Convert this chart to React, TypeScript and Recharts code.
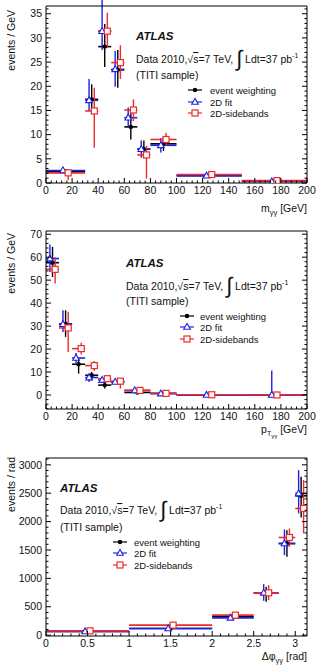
import React from 'react';
import { ComposedChart, Scatter, XAxis, YAxis, ErrorBar, Customized } from 'recharts';

const FONT = '"Liberation Sans", Arial, Helvetica, sans-serif';
const INK = '#111111';
const BLACK = '#000000';
const BLUE = '#2020e8';
const RED = '#ec2b2b';

// ---------- diphoton invariant mass m_γγ [GeV] ----------
const massBinEdges = [0, 30, 40, 50, 60, 70, 80, 100, 150, 200];
const massWeighting = [2.4, 17.3, 28.2, 23.4, 11.6, 7.0, 8.1, 1.5, 0.35];
const massWeightingLow = [2.0, 14.4, 24.0, 19.7, 9.0, 5.4, 6.6, 1.3, 0.25];
const massWeightingHigh = [2.8, 20.4, 32.9, 27.5, 14.4, 8.8, 9.7, 1.7, 0.45];
const massFit = [2.6, 17.1, 31.4, 23.5, 13.5, 7.0, 7.8, 1.5, 0.3];
const massFitLow = [2.3, 14.9, 27.5, 19.9, 11.6, 5.2, 6.3, 1.3, 0.2];
const massFitHigh = [2.9, 21.5, 38.0, 27.3, 15.6, 8.8, 9.3, 1.7, 0.45];
const massSidebands = [2.1, 14.9, 31.4, 24.9, 15.1, 5.8, 9.0, 1.75, 0.5];
const massSidebandsLow = [0.6, 7.3, 28.0, 21.5, 12.8, 0.9, 7.7, 1.5, 0.35];
const massSidebandsHigh = [2.9, 19.7, 35.2, 28.5, 17.3, 7.7, 10.4, 2.0, 0.65];
const massXTicks = [0, 20, 40, 60, 80, 100, 120, 140, 160, 180, 200];
const massYTicks = [0, 5, 10, 15, 20, 25, 30, 35];

// ---------- diphoton transverse momentum p_Tγγ [GeV] ----------
const ptBinEdges = [0, 10, 20, 30, 40, 50, 60, 80, 100, 150, 200];
const ptWeighting = [57.6, 30.9, 13.4, 8.6, 4.3, 5.7, 1.1, 0.7, 0.0, -0.1];
const ptWeightingLow = [51.4, 25.3, 9.3, 6.4, 2.8, 4.7, 0.5, 0.3, -0.2, -0.6];
const ptWeightingHigh = [64.5, 36.9, 15.8, 10.0, 6.4, 6.7, 1.8, 1.1, 0.2, 0.4];
const ptFit = [59.4, 30.8, 16.1, 7.6, 6.5, 5.7, 2.0, 0.6, 0.0, 0.0];
const ptFitLow = [53.6, 27.4, 13.9, 5.7, 5.5, 4.8, 1.4, 0.3, -0.2, -1.3];
const ptFitHigh = [65.5, 36.9, 18.3, 9.4, 7.5, 6.6, 2.6, 0.9, 0.2, 10.7];
const ptSidebands = [54.7, 29.2, 20.2, 12.8, 7.1, 6.0, 2.0, 0.7, 0.1, 0.0];
const ptSidebandsLow = [48.5, 18.7, 17.6, 10.5, 5.7, 2.8, 1.4, 0.3, -0.2, -0.3];
const ptSidebandsHigh = [60.1, 36.2, 22.7, 14.8, 8.6, 7.1, 2.6, 1.1, 0.4, 0.3];
const ptXTicks = [0, 20, 40, 60, 80, 100, 120, 140, 160, 180, 200];
const ptYTicks = [0, 10, 20, 30, 40, 50, 60, 70];

// ---------- azimuthal separation Δφ_γγ [rad] ----------
const dphiBinEdges = [0, 1, 2, 2.5, 2.8, 3.0, Math.PI];
const dphiWeighting = [65, 117, 323, 745, 1614, 2454];
const dphiWeightingLow = [50, 100, 290, 587, 1380, 2072];
const dphiWeightingHigh = [80, 135, 355, 851, 1849, 2789];
const dphiFit = [65, 117, 305, 745, 1614, 2495];
const dphiFitLow = [50, 95, 270, 605, 1409, 2143];
const dphiFitHigh = [80, 140, 340, 898, 1861, 2906];
const dphiSidebands = [76, 176, 352, 745, 1720, 2231];
const dphiSidebandsLow = [60, 150, 320, 616, 1556, 1790];
const dphiSidebandsHigh = [92, 200, 385, 880, 1879, 2730];
const dphiXTicks = [0, 0.5, 1, 1.5, 2, 2.5, 3];
const dphiYTicks = [0, 500, 1000, 1500, 2000, 2500, 3000];

const legendLabels = ['event weighting', '2D fit', '2D-sidebands'];

type Pt = { x: number; y: number; xErr: [number, number]; yErr: [number, number] };

// Points sit in the bin centre (nudged sideways per method so they don't overlap);
// the horizontal bar always spans the full bin.
function buildPoints(edges: number[], values: number[], lows: number[], highs: number[], shift: number): Pt[] {
  return values.map((v, i) => {
    const lo = edges[i];
    const hi = edges[i + 1];
    const x = (lo + hi) / 2 + shift;
    return { x, y: v, xErr: [x - lo, hi - x], yErr: [v - lows[i], highs[i] - v] };
  });
}

function stepTicks(from: number, to: number, step: number): number[] {
  const out: number[] = [];
  const n0 = Math.ceil(from / step - 1e-9);
  const n1 = Math.floor(to / step + 1e-9);
  for (let n = n0; n <= n1; n++) out.push(Math.round(n * step * 1000) / 1000);
  return out;
}

const isMajor = (majors: number[], v: number) => majors.some((m) => Math.abs(m - v) < 1e-6);

type Side = 'bottom' | 'top' | 'left' | 'right';

function makeTick(side: Side, majors: number[]) {
  return (props: any) => {
    const { x, y, payload } = props;
    const v = payload.value as number;
    const major = isMajor(majors, v);
    const len = major ? 5 : 2.5;
    const label = String(v);
    if (side === 'bottom') {
      return (
        <g>
          <line x1={x} y1={y} x2={x} y2={y - len} stroke={BLACK} strokeWidth={1} />
          {major && (
            <text x={x} y={y + 11} textAnchor="middle" fontSize={10.5} fontFamily={FONT} fill={INK}>
              {label}
            </text>
          )}
        </g>
      );
    }
    if (side === 'top') {
      return <line x1={x} y1={y} x2={x} y2={y + len} stroke={BLACK} strokeWidth={1} />;
    }
    if (side === 'left') {
      return (
        <g>
          <line x1={x} y1={y} x2={x + len} y2={y} stroke={BLACK} strokeWidth={1} />
          {major && (
            <text x={x - 4} y={y + 3.7} textAnchor="end" fontSize={10.5} fontFamily={FONT} fill={INK}>
              {label}
            </text>
          )}
        </g>
      );
    }
    return <line x1={x} y1={y} x2={x - len} y2={y} stroke={BLACK} strokeWidth={1} />;
  };
}

const dotShape = (p: any) => <circle cx={p.cx} cy={p.cy} r={2.2} fill={BLACK} />;
const triangleShape = (p: any) => (
  <polygon
    points={`${p.cx},${p.cy - 3.6} ${p.cx - 3.3},${p.cy + 2.3} ${p.cx + 3.3},${p.cy + 2.3}`}
    fill="#ffffff"
    stroke={BLUE}
    strokeWidth={1.1}
  />
);
const squareShape = (p: any) => (
  <rect x={p.cx - 3} y={p.cy - 3} width={6} height={6} fill="#ffffff" stroke={RED} strokeWidth={1.2} />
);

const seriesStyle = [
  { color: BLACK, shape: dotShape },
  { color: BLUE, shape: triangleShape },
  { color: RED, shape: squareShape },
];

function LegendMark({ i, x, y }: { i: number; x: number; y: number }) {
  const c = seriesStyle[i].color;
  return (
    <g>
      <line x1={x - 7} y1={y} x2={x + 7} y2={y} stroke={c} strokeWidth={1.2} />
      {seriesStyle[i].shape({ cx: x, cy: y })}
    </g>
  );
}

type Overlay = {
  atlas: [number, number];
  lineGap: [number, number];
  legend: { markX: number; textX: number; ys: number[] };
  xTitle: React.ReactNode;
  xTitleY: number;
  yTitle: string;
  yTitleTop: number;
};

function OverlayText({ o }: { o: Overlay }) {
  const [ax, ay] = o.atlas;
  return (
    <g fontFamily={FONT} fill={INK}>
      <text x={ax} y={ay} fontSize={11.5} fontWeight="bold" fontStyle="italic">
        ATLAS
      </text>
      <text x={ax} y={ay + o.lineGap[0]} fontSize={10.5}>
        Data 2010,√<tspan style={{ textDecoration: 'overline' }}>s</tspan>=7 TeV,
        <tspan fontSize={22} dx={3} dy={3}>∫</tspan>
        <tspan dy={-3}> Ldt=37 pb</tspan>
        <tspan fontSize={7} dy={-5}>-1</tspan>
      </text>
      <text x={ax} y={ay + o.lineGap[1]} fontSize={10.5}>
        (TITI sample)
      </text>
      {legendLabels.map((t, i) => (
        <g key={t}>
          <LegendMark i={i} x={o.legend.markX} y={o.legend.ys[i]} />
          <text x={o.legend.textX} y={o.legend.ys[i] + 3.5} fontSize={9.5}>
            {t}
          </text>
        </g>
      ))}
      <text x={307} y={o.xTitleY} textAnchor="end" fontSize={10.5}>
        {o.xTitle}
      </text>
      <text
        x={15}
        y={o.yTitleTop}
        textAnchor="end"
        fontSize={10.5}
        transform={`rotate(-90, 15, ${o.yTitleTop})`}
      >
        {o.yTitle}
      </text>
    </g>
  );
}

type PanelProps = {
  top: number;
  height: number;
  // plot-frame edges in panel coordinates
  frame: { top: number; right: number; bottom: number; left: number };
  xDomain: [number, number];
  yDomain: [number, number];
  xMajors: number[];
  xMinorStep: number;
  yMajors: number[];
  yMinorStep: number;
  series: Pt[][];
  overlay: Overlay;
};

// every axis strip is 1px thick; the frame edges land on the strip's inner side
const STRIP = 1;

function Panel(p: PanelProps) {
  const xTicks = stepTicks(p.xDomain[0], p.xDomain[1], p.xMinorStep);
  const yTicks = stepTicks(p.yDomain[0], p.yDomain[1], p.yMinorStep);
  const margin = {
    top: p.frame.top - STRIP,
    left: p.frame.left - STRIP,
    right: 321 - p.frame.right - STRIP,
    bottom: p.height - p.frame.bottom - STRIP,
  };
  return (
    <div style={{ position: 'absolute', left: 0, top: p.top, width: 321, height: p.height }}>
      <ComposedChart width={321} height={p.height} margin={margin}>
        <XAxis
          xAxisId="b"
          dataKey="x"
          type="number"
          orientation="bottom"
          domain={p.xDomain}
          allowDataOverflow
          ticks={xTicks}
          interval={0}
          tickSize={0}
          tickMargin={0}
          height={STRIP}
          stroke={BLACK}
          tick={makeTick('bottom', p.xMajors)}
        />
        <XAxis
          xAxisId="t"
          type="number"
          orientation="top"
          domain={p.xDomain}
          allowDataOverflow
          ticks={xTicks}
          interval={0}
          tickSize={0}
          tickMargin={0}
          height={STRIP}
          stroke={BLACK}
          tick={makeTick('top', p.xMajors)}
        />
        <YAxis
          yAxisId="l"
          dataKey="y"
          type="number"
          orientation="left"
          domain={p.yDomain}
          allowDataOverflow
          ticks={yTicks}
          interval={0}
          tickSize={0}
          tickMargin={0}
          width={STRIP}
          stroke={BLACK}
          tick={makeTick('left', p.yMajors)}
        />
        <YAxis
          yAxisId="r"
          type="number"
          orientation="right"
          domain={p.yDomain}
          allowDataOverflow
          ticks={yTicks}
          interval={0}
          tickSize={0}
          tickMargin={0}
          width={STRIP}
          stroke={BLACK}
          tick={makeTick('right', p.yMajors)}
        />
        {p.series.map((pts, i) => (
          <Scatter
            key={legendLabels[i]}
            name={legendLabels[i]}
            data={pts}
            xAxisId="b"
            yAxisId="l"
            dataKey="y"
            isAnimationActive={false}
            shape={seriesStyle[i].shape}
          >
            <ErrorBar dataKey="xErr" direction="x" width={0} stroke={seriesStyle[i].color} strokeWidth={1.6} isAnimationActive={false} />
            <ErrorBar dataKey="yErr" direction="y" width={0} stroke={seriesStyle[i].color} strokeWidth={1.4} isAnimationActive={false} />
          </Scatter>
        ))}
        <Customized component={<OverlayText o={p.overlay} />} />
      </ComposedChart>
    </div>
  );
}

const sub = (t: string, dy = 3, fs = 7.5) => (
  <tspan fontSize={fs} dy={dy}>
    {t}
  </tspan>
);

export default function App() {
  const massShift = 2;
  const ptShift = 2;
  const dphiShift = 0.03;
  const massSeries = [
    buildPoints(massBinEdges, massWeighting, massWeightingLow, massWeightingHigh, 0),
    buildPoints(massBinEdges, massFit, massFitLow, massFitHigh, -massShift),
    buildPoints(massBinEdges, massSidebands, massSidebandsLow, massSidebandsHigh, massShift),
  ];
  const ptSeries = [
    buildPoints(ptBinEdges, ptWeighting, ptWeightingLow, ptWeightingHigh, 0),
    buildPoints(ptBinEdges, ptFit, ptFitLow, ptFitHigh, -ptShift),
    buildPoints(ptBinEdges, ptSidebands, ptSidebandsLow, ptSidebandsHigh, ptShift),
  ];
  const dphiSeries = [
    buildPoints(dphiBinEdges, dphiWeighting, dphiWeightingLow, dphiWeightingHigh, 0),
    buildPoints(dphiBinEdges, dphiFit, dphiFitLow, dphiFitHigh, -dphiShift),
    buildPoints(dphiBinEdges, dphiSidebands, dphiSidebandsLow, dphiSidebandsHigh, dphiShift),
  ];

  return (
    <div style={{ position: 'absolute', left: 0, top: 0, width: 321, height: 665, background: '#ffffff', overflow: 'hidden' }}>
      <Panel
        top={0}
        height={220}
        frame={{ top: 6, right: 307, bottom: 183, left: 46 }}
        xDomain={[0, 200]}
        yDomain={[0, 36.6]}
        xMajors={massXTicks}
        xMinorStep={4}
        yMajors={massYTicks}
        yMinorStep={1}
        series={massSeries}
        overlay={{
          atlas: [136, 40],
          lineGap: [23, 39],
          legend: { markX: 195, textX: 210, ys: [90, 102, 113] },
          xTitle: (
            <>
              m{sub('γγ')}
              <tspan dy={-3}> [GeV]</tspan>
            </>
          ),
          xTitleY: 212,
          yTitle: 'events / GeV',
          yTitleTop: 10,
        }}
      />
      <Panel
        top={220}
        height={220}
        frame={{ top: 11, right: 307, bottom: 189, left: 46 }}
        xDomain={[0, 200]}
        yDomain={[-6.1, 71.4]}
        xMajors={ptXTicks}
        xMinorStep={4}
        yMajors={ptYTicks}
        yMinorStep={2}
        series={ptSeries}
        overlay={{
          atlas: [126, 47],
          lineGap: [23, 38],
          legend: { markX: 187, textX: 200, ys: [96, 107, 119] },
          xTitle: (
            <>
              p{sub('T', 3, 7)}
              {sub('γγ', 2, 6)}
              <tspan dy={-5}> [GeV]</tspan>
            </>
          ),
          xTitleY: 213,
          yTitle: 'events / GeV',
          yTitleTop: 13,
        }}
      />
      <Panel
        top={440}
        height={225}
        frame={{ top: 18, right: 307, bottom: 196, left: 46 }}
        xDomain={[0, Math.PI]}
        yDomain={[-15, 3120]}
        xMajors={dphiXTicks}
        xMinorStep={0.1}
        yMajors={dphiYTicks}
        yMinorStep={100}
        series={dphiSeries}
        overlay={{
          atlas: [60, 52],
          lineGap: [22, 39],
          legend: { markX: 120, textX: 134, ys: [102, 113, 125] },
          xTitle: (
            <>
              Δφ{sub('γγ')}
              <tspan dy={-3}> [rad]</tspan>
            </>
          ),
          xTitleY: 220,
          yTitle: 'events / rad',
          yTitleTop: 17,
        }}
      />
    </div>
  );
}
